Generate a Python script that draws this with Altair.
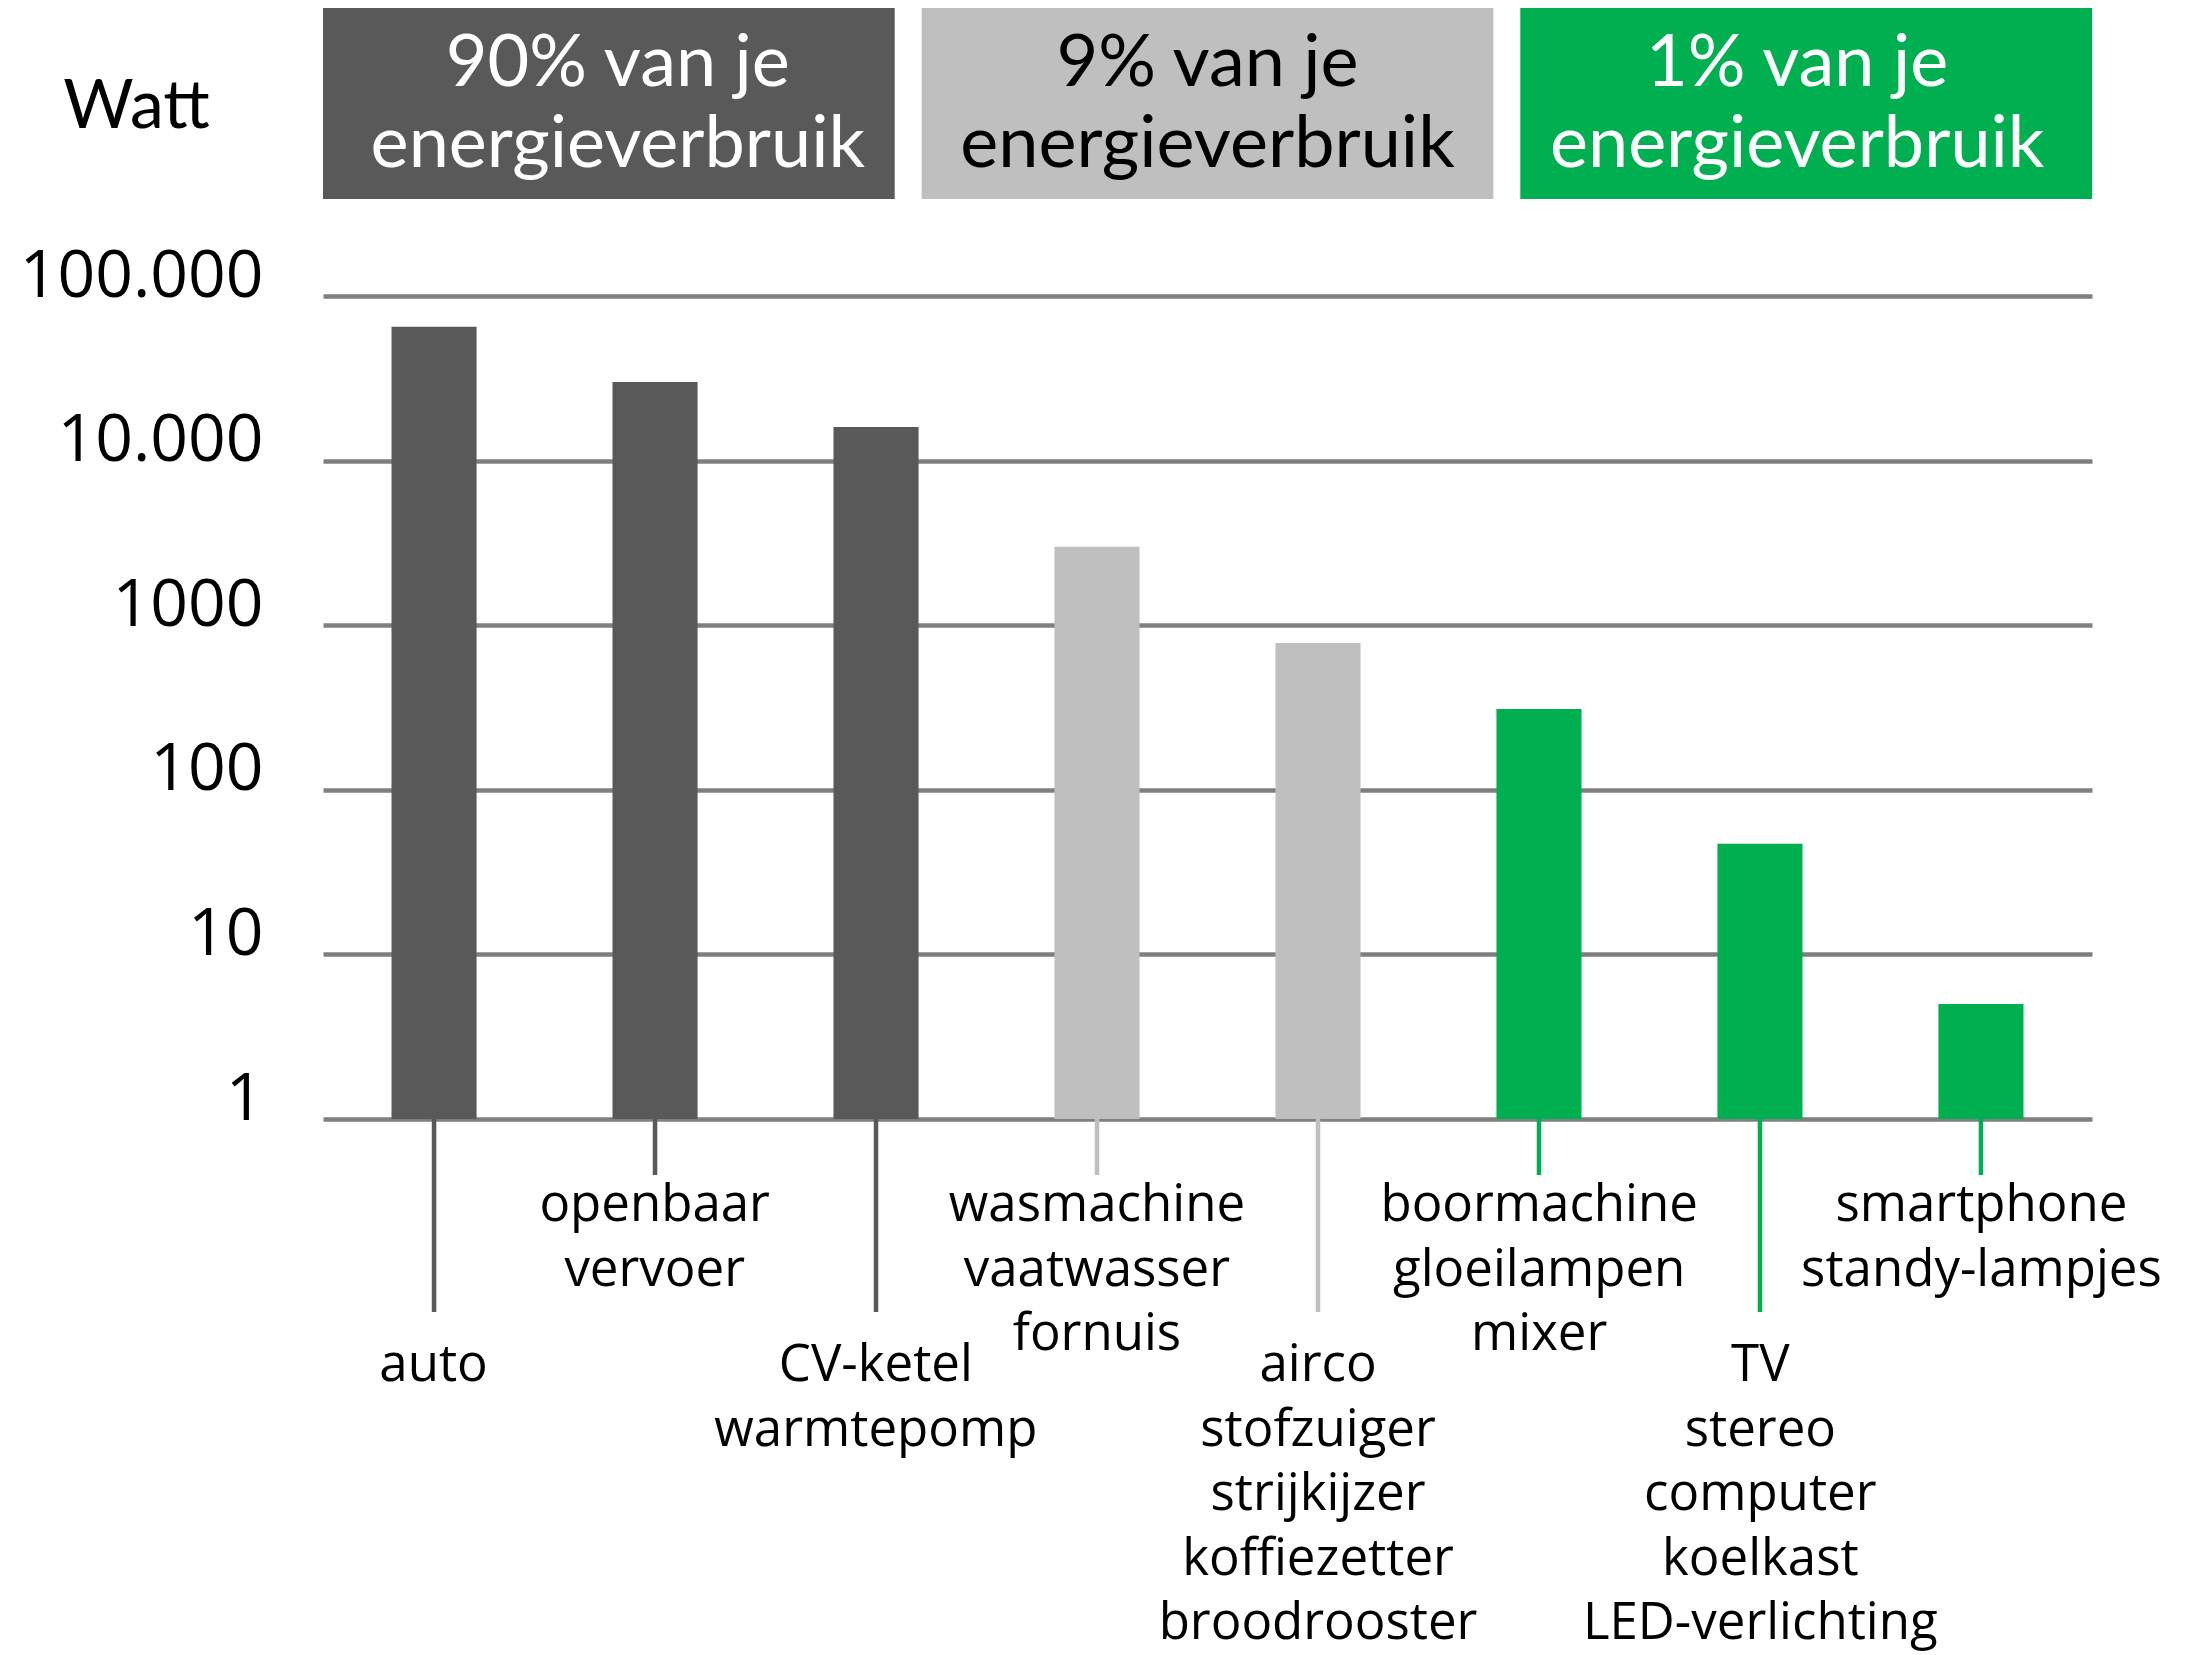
import altair as alt
import pandas as pd

# ---- data ----
items = ["auto", "openbaar vervoer", "CV-ketel", "wasmachine", "airco",
         "boormachine", "TV", "smartphone"]
labels = [
    "auto",
    "openbaar\nvervoer",
    "CV-ketel\nwarmtepomp",
    "wasmachine\nvaatwasser\nfornuis",
    "airco\nstofzuiger\nstrijkijzer\nkoffiezetter\nbroodrooster",
    "boormachine\ngloeilampen\nmixer",
    "TV\nstereo\ncomputer\nkoelkast\nLED-verlichting",
    "smartphone\nstandy-lampjes",
]
watts = [65000, 30000, 16000, 3000, 780, 310, 47, 5]
item_groups = ["90%", "90%", "90%", "9%", "9%", "1%", "1%", "1%"]

groups = ["90%", "9%", "1%"]
group_colors = ["#595959", "#bfbfbf", "#00b050"]
header_text = ["90% van je\nenergieverbruik", "9% van je\nenergieverbruik",
               "1% van je\nenergieverbruik"]
header_text_colors = ["white", "black", "white"]

y_ticks = [1, 10, 100, 1000, 10000, 100000]
y_tick_labels = ["1", "10", "100", "1000", "10.000", "100.000"]

# ---- layout ----
W, H = 1769, 823

df = pd.DataFrame({
    "item": items, "label": labels, "watt": watts, "grp": item_groups,
    "base": [1] * len(items), "idx": list(range(len(items))),
})
hdr = pd.DataFrame({"grp": groups, "text": header_text, "tcolor": header_text_colors})

label_expr = "''"
for v, l in reversed(list(zip(y_ticks, y_tick_labels))):
    label_expr = f"datum.value == {v} ? '{l}' : ({label_expr})"

xscale = alt.Scale(domain=items, paddingInner=0.615, paddingOuter=0.31)
X = alt.X("item:N", scale=xscale, axis=None)
color = alt.Color("grp:N", scale=alt.Scale(domain=groups, range=group_colors), legend=None)

GX = alt.X("grp:N", scale=alt.Scale(domain=groups, paddingInner=0.045, paddingOuter=0), axis=None)

header_rect = alt.Chart(hdr).mark_rect().encode(
    x=GX, y=alt.value(-289), y2=alt.value(-97), color=color
)
header_lbl = alt.Chart(hdr).mark_text(
    font="Lato", fontSize=72, lineBreak="\n", lineHeight=81,
    baseline="alphabetic", align="center"
).encode(
    x=GX, y=alt.value(-210), text="text:N",
    fill=alt.Fill("tcolor:N", scale=None, legend=None)
)

base = alt.Chart(df)

bars = base.mark_bar().encode(
    x=X,
    y=alt.Y(
        "watt:Q",
        scale=alt.Scale(type="log", domain=[1, 100000], nice=False),
        axis=alt.Axis(
            values=y_ticks, labelExpr=label_expr, grid=True,
            gridColor="#7f7f7f", gridWidth=4.5, domain=False, ticks=False,
            labelFont="Open Sans", labelFontSize=66, labelColor="black",
            labelPadding=60, labelBaseline="alphabetic", labelOverlap=False,
            labelBound=False, labelLimit=1000,
            title="Watt", titleAngle=0, titleX=-187, titleY=-169,
            titleAlign="center", titleBaseline="alphabetic", titleFont="Lato",
            titleFontSize=68, titleFontWeight="normal", titleColor="black",
        ),
    ),
    y2="base:Q",
    color=color,
)

long_sel = "datum.idx % 2 == 0"
short_sel = "datum.idx % 2 == 1"

stems_long = base.transform_filter(long_sel).mark_rule(strokeWidth=4.5).encode(
    x=X, y=alt.value(H), y2=alt.value(H + 193), color=color
)
stems_short = base.transform_filter(short_sel).mark_rule(strokeWidth=4.5).encode(
    x=X, y=alt.value(H), y2=alt.value(H + 56), color=color
)

text_props = dict(font="Open Sans", fontSize=51, lineBreak="\n", lineHeight=64.5,
                  baseline="alphabetic", align="center", color="black")
text_long = base.transform_filter(long_sel).mark_text(**text_props).encode(
    x=X, y=alt.value(H + 262), text="label:N"
)
text_short = base.transform_filter(short_sel).mark_text(**text_props).encode(
    x=X, y=alt.value(H + 102), text="label:N"
)

chart = alt.layer(
    header_rect, header_lbl, bars, stems_long, stems_short, text_long, text_short
).resolve_scale(x="independent").properties(
    width=W, height=H,
    autosize=alt.AutoSizeParams(type="none"),
    padding={"left": 315, "top": 288, "right": 80, "bottom": 536},
).configure_view(stroke="transparent")

chart.save("out.html", embed_options={"renderer": "svg", "actions": False})
